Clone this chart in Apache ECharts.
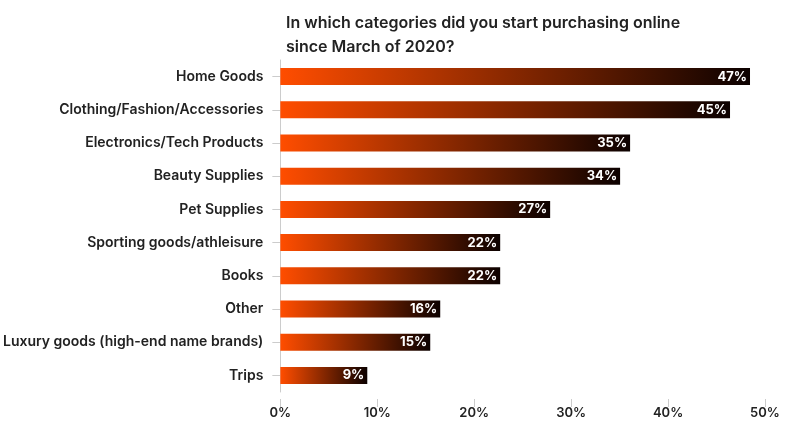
<!DOCTYPE html>
<html>
<head>
<meta charset="utf-8">
<script src="https://cdn.jsdelivr.net/npm/echarts@6/dist/echarts.min.js"></script>
<style>html,body{margin:0;padding:0;background:#fff}#c{width:800px;height:432px}</style>
</head>
<body>
<div id="c"></div>
<script>
const titleLines = ['In which categories did you start purchasing online', 'since March of 2020?'];
const categories = ['Home Goods', 'Clothing/Fashion/Accessories', 'Electronics/Tech Products', 'Beauty Supplies', 'Pet Supplies', 'Sporting goods/athleisure', 'Books', 'Other', 'Luxury goods (high-end name brands)', 'Trips'];
const values = [47, 45, 35, 34, 27, 22, 22, 16, 15, 8.7];
const tickLabels = ['0%', '10%', '20%', '30%', '40%', '50%'];

const FONT = 'Inter';
const chart = echarts.init(document.getElementById('c'), null, {renderer: 'canvas'});
chart.setOption({
  animation: false,
  title: {
    text: titleLines.join('\n'),
    left: 281, top: 6,
    textStyle: {fontFamily: FONT, fontSize: 16, fontWeight: 600, color: '#222', lineHeight: 24}
  },
  grid: {left: 280, right: 35, top: 60, bottom: 40, containLabel: false},
  xAxis: [{
    type: 'value', min: 0, max: 50, interval: 10, offset: 7,
    axisLine: {show: false},
    axisTick: {show: true, length: 8, lineStyle: {color: '#ccc'}},
    splitLine: {show: false},
    axisLabel: {margin: 8, fontFamily: FONT, fontSize: 13, fontWeight: 600, color: '#222',
      formatter: (v) => tickLabels[Math.round(v / 10)]}
  }, {
    type: 'value', min: 0, max: 48.5, show: false, position: 'bottom'
  }],
  yAxis: {
    type: 'category', data: categories, inverse: true,
    axisLine: {show: true, lineStyle: {color: '#ccc'}},
    axisTick: {show: true, length: 8, alignWithLabel: true, lineStyle: {color: '#ccc'}},
    axisLabel: {margin: 17, fontFamily: FONT, fontSize: 14, fontWeight: 600, color: '#222'}
  },
  series: [{
    type: 'bar', xAxisIndex: 1, data: values, barWidth: 17,
    itemStyle: {
      color: new echarts.graphic.LinearGradient(0, 0, 1, 0, [
        {offset: 0, color: '#ff4d00'},
        {offset: 1, color: '#0c0100'}
      ])
    },
    label: {
      show: true, position: 'insideRight', distance: 3,
      color: '#fff', fontFamily: FONT, fontSize: 13, fontWeight: 700,
      formatter: (p) => Math.round(p.value) + '%'
    }
  }]
});
</script>
</body>
</html>
